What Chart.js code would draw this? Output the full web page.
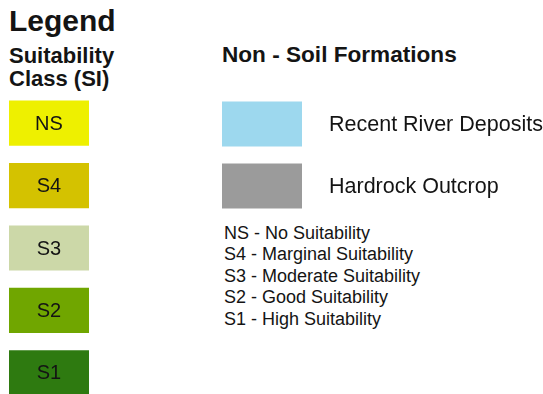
<!DOCTYPE html>
<html>
<head>
<meta charset="utf-8">
<script src="https://cdn.jsdelivr.net/npm/chart.js@4/dist/chart.umd.min.js"></script>
<style>
  html, body { margin: 0; padding: 0; background: #fff; overflow: hidden; }
  body { width: 543px; height: 394px; position: relative; font-family: "Liberation Sans", Arial, sans-serif; color: #141414; }
  .txt { position: absolute; white-space: nowrap; }
  canvas { position: absolute; }
</style>
</head>
<body>
<div class="txt" style="left:9px;top:6px;font-size:30px;line-height:30px;font-weight:bold;">Legend</div>
<div class="txt" style="left:9px;top:44px;font-size:22px;line-height:23px;font-weight:bold;">Suitability<br>Class (SI)</div>
<div class="txt" style="left:222px;top:44px;font-size:22.6px;line-height:22px;font-weight:bold;">Non - Soil Formations</div>
<div class="txt" id="desc" style="left:224px;top:223px;font-size:18px;line-height:21.4px;"></div>

<canvas id="classChart" width="80" height="312" style="left:9px;top:92px;"></canvas>
<canvas id="formChart" width="321" height="124" style="left:222px;top:93px;"></canvas>

<script>
const classCodes = ["NS", "S4", "S3", "S2", "S1"];
const classNames = ["No Suitability", "Marginal Suitability", "Moderate Suitability", "Good Suitability", "High Suitability"];
const classColors = ["#EEF000", "#D4C200", "#CCD8A8", "#70A600", "#2E7A10"];

const formationNames = ["Recent River Deposits", "Hardrock Outcrop"];
const formationColors = ["#9DD8EE", "#9B9B9B"];

// one swatch per entry, spanning the whole value axis
const classValues = classCodes.map(() => 1);
const formationValues = formationNames.map(() => 1);

document.getElementById("desc").innerHTML =
  classCodes.map((c, i) => c + " - " + classNames[i]).join("<br>");

// writes each category name either inside the box or beside it
const barLabels = {
  id: "barLabels",
  afterDatasetsDraw(chart, args, opts) {
    const ctx = chart.ctx;
    const meta = chart.getDatasetMeta(0);
    ctx.save();
    ctx.font = opts.size + "px 'Liberation Sans', Arial, sans-serif";
    ctx.fillStyle = "#141414";
    ctx.textBaseline = "middle";
    ctx.textAlign = opts.inside ? "center" : "left";
    meta.data.forEach((bar, i) => {
      const x = opts.inside ? (bar.x + bar.base) / 2 : bar.x + opts.gap;
      ctx.fillText(chart.data.labels[i], x, bar.y + 1);
    });
    ctx.restore();
  }
};

function swatchChart(id, labels, values, colors, maxX, labelOpts) {
  return new Chart(document.getElementById(id), {
    type: "bar",
    data: {
      labels: labels,
      datasets: [{
        data: values,
        backgroundColor: colors,
        categoryPercentage: 1,
        barPercentage: 0.725
      }]
    },
    options: {
      indexAxis: "y",
      responsive: false,
      animation: false,
      devicePixelRatio: 1,
      layout: { padding: 0 },
      plugins: { legend: { display: false }, tooltip: { enabled: false }, barLabels: labelOpts },
      scales: {
        x: { display: false, min: 0, max: maxX },
        y: { display: false }
      }
    },
    plugins: [barLabels]
  });
}

swatchChart("classChart", classCodes, classValues, classColors, 1, { inside: true, size: 20 });
// swatches take the first quarter of the width, names go to the right
swatchChart("formChart", formationNames, formationValues, formationColors, 4.0125, { inside: false, size: 21.5, gap: 27 });
</script>
</body>
</html>
